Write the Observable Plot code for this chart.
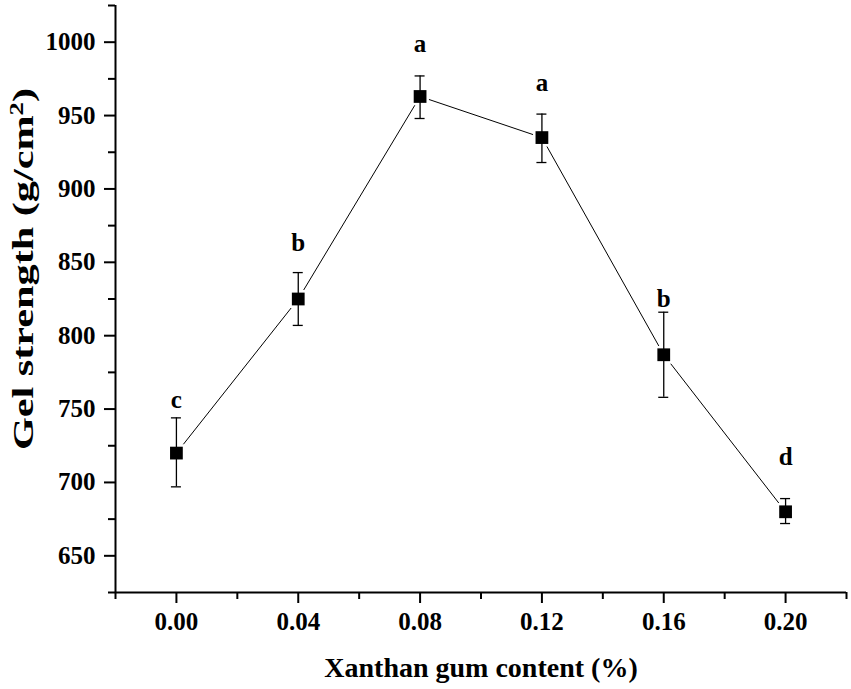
<!DOCTYPE html>
<html>
<head>
<meta charset="utf-8">
<script src="https://cdn.jsdelivr.net/npm/d3@7"></script>
<script src="https://cdn.jsdelivr.net/npm/@observablehq/plot@0.6"></script>
<style>
  html, body { margin: 0; padding: 0; background: white; }
</style>
</head>
<body>
<div id="chart"></div>
<script>
// Data
const xanthan = [0.00, 0.04, 0.08, 0.12, 0.16, 0.20];
const gelStrength = [720, 825, 963, 935, 787, 680];
const errLow = [697, 807, 948, 918, 758, 672];
const errHigh = [744, 843, 977, 951, 816, 689];
const letters = ["c", "b", "a", "a", "b", "d"];
const letterLevel = [756, 863, 999, 972, 825, 717];

const majorX = [0.00, 0.04, 0.08, 0.12, 0.16, 0.20];
const minorX = [-0.02, 0.02, 0.06, 0.10, 0.14, 0.18, 0.22];
const majorY = [650, 700, 750, 800, 850, 900, 950, 1000];
const minorY = [625, 675, 725, 775, 825, 875, 925, 975, 1025];

const data = xanthan.map((x, i) => ({
  x, y: gelStrength[i], lo: errLow[i], hi: errHigh[i],
  letter: letters[i], ly: letterLevel[i]
}));

const font = "Liberation Serif, Times New Roman, serif";

const chart = Plot.plot({
  width: 851,
  height: 689,
  marginLeft: 115,
  marginRight: 5,
  marginTop: 5,
  marginBottom: 97,
  x: { domain: [-0.02, 0.22] },
  y: { domain: [625, 1025] },
  style: { fontFamily: font, fontWeight: "bold", fontSize: "25px", color: "black", background: "white", overflow: "visible" },
  marks: [
    Plot.line(data, { x: "x", y: "y", stroke: "black", strokeWidth: 1 }),
    Plot.dot(data, { x: "x", y: "y", symbol: "square", r: 7.2, fill: "white", stroke: "white", strokeWidth: 5 }),
    Plot.ruleX(data, { x: "x", y1: "lo", y2: "hi", stroke: "black", strokeWidth: 1.3 }),
    Plot.ruleY(data, { y: "lo", x1: "x", x2: "x", insetLeft: -5, insetRight: -5, stroke: "black", strokeWidth: 1.3 }),
    Plot.ruleY(data, { y: "hi", x1: "x", x2: "x", insetLeft: -5, insetRight: -5, stroke: "black", strokeWidth: 1.3 }),
    Plot.dot(data, { x: "x", y: "y", symbol: "square", r: 7.2, fill: "black", stroke: "none" }),
    Plot.text(data, { x: "x", y: "ly", text: "letter", fontSize: 25, fontWeight: "bold", fill: "black" }),
    Plot.ruleX([-0.02], { stroke: "black", strokeWidth: 2 }),
    Plot.ruleY([625], { stroke: "black", strokeWidth: 2 }),
    Plot.axisX({ ticks: majorX, tickSize: 11, tickPadding: 9, tickFormat: d3.format(".2f"), label: null, strokeWidth: 2, fontSize: 25 }),
    Plot.axisX({ ticks: minorX, tickSize: 7, tickFormat: () => "", label: null, strokeWidth: 2 }),
    Plot.axisY({ ticks: majorY, tickSize: 11, tickPadding: 9, tickFormat: d3.format("d"), label: null, strokeWidth: 2, fontSize: 25 }),
    Plot.axisY({ ticks: minorY, tickSize: 7, tickFormat: () => "", label: null, strokeWidth: 2 })
  ]
});

const svg = d3.select(chart);
svg.append("text")
  .attr("x", 481)
  .attr("y", 677)
  .attr("text-anchor", "middle")
  .attr("font-family", font)
  .attr("font-weight", "bold")
  .attr("font-size", 28)
  .attr("fill", "black")
  .text("Xanthan gum content (%)");

const yt = svg.append("text")
  .attr("transform", "translate(33,269) rotate(-90)")
  .attr("text-anchor", "middle")
  .attr("font-family", font)
  .attr("font-weight", "bold")
  .attr("font-size", 30)
  .attr("fill", "black")
  .attr("textLength", 362)
  .attr("lengthAdjust", "spacingAndGlyphs");
yt.append("tspan").text("Gel strength (g/cm");
yt.append("tspan").attr("baseline-shift", "super").attr("font-size", 19).text("2");
yt.append("tspan").text(")");

document.getElementById("chart").appendChild(chart);
</script>
</body>
</html>
